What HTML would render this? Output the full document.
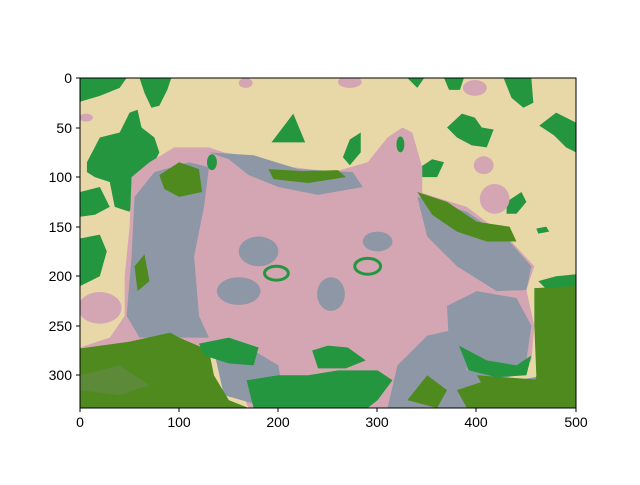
<!DOCTYPE html>
<html><head><meta charset="utf-8"><style>
body{margin:0;background:#fff;width:640px;height:480px;overflow:hidden;font-family:"Liberation Sans","DejaVu Sans",sans-serif}
</style></head><body>
<svg width="640" height="480">
<rect width="640" height="480" fill="#fff"/>
<svg x="80" y="78" width="496" height="330" viewBox="0 0 500 333" preserveAspectRatio="none">
<rect width="500" height="333" fill="#e9d8a7"/>
<g fill="#23963f">
<path d="M0,0 L47,0 L40,10 L20,18 L0,24Z"/>
<path d="M60,0 L92,0 L88,12 L80,28 L72,30 L65,15Z"/>
<path d="M7,85 L20,60 L40,55 L50,35 L58,32 L62,50 L75,60 L80,75 L70,95 L75,110 L60,110 L50,135 L35,130 L30,105 L15,100 L7,95Z"/>
<path d="M0,115 L20,110 L30,130 L15,138 L0,140Z"/>
<path d="M0,162 L20,158 L27,175 L20,200 L0,210Z"/>
<path d="M193,65 L215,36 L227,65Z"/>
<path d="M265,80 L272,62 L283,55 L283,75 L272,88Z"/>
<path d="M343,90 L355,82 L367,85 L360,100 L345,100Z"/>
<path d="M330,0 L347,0 L340,10Z"/>
<path d="M367,0 L387,0 L383,12 L372,12Z"/>
<path d="M427,0 L455,0 L457,25 L447,30 L435,20Z"/>
<path d="M370,50 L385,36 L398,40 L405,50 L417,52 L410,70 L395,68 L380,60Z"/>
<path d="M463,48 L480,35 L490,40 L500,45 L500,75 L490,70 L478,58Z"/>
<path d="M430,125 L445,115 L450,125 L440,137 L430,137Z"/>
<path d="M460,152 L470,150 L473,155 L462,157Z"/>
<path d="M462,205 L480,200 L500,198 L500,212 L470,213Z"/>
</g>
<g fill="#d4a6b3">
<ellipse cx="167" cy="5" rx="7" ry="5"/>
<ellipse cx="272" cy="4" rx="12" ry="6"/>
<ellipse cx="398" cy="10" rx="12" ry="8"/>
<ellipse cx="407" cy="88" rx="10" ry="9"/>
<ellipse cx="418" cy="122" rx="15" ry="15"/>
<ellipse cx="6" cy="40" rx="7" ry="4"/>
<ellipse cx="20" cy="232" rx="22" ry="16"/>
</g>
<path fill="#d4a6b3" d="M0,272 L30,262 L45,240 L45,200 L50,150 L52,100 L70,85 L95,70 L130,70 L145,75 L175,80 L215,90 L255,95 L290,85 L310,60 L325,50 L335,55 L345,90 L345,116 L390,130 L433,163 L458,190 L450,214 L458,250 L455,285 L440,300 L400,310 L370,333 L170,333 L150,290 L100,265 L0,275Z"/>
<g fill="#8e97a5">
<path d="M47,240 L52,180 L55,120 L75,95 L110,85 L130,90 L125,130 L115,180 L120,240 L130,262 L90,262 L60,262Z"/>
<path d="M130,75 L175,78 L220,92 L275,95 L285,110 L240,118 L200,110 L170,98 L150,82Z"/>
<path d="M340,120 L390,135 L433,165 L455,190 L450,214 L420,215 L380,190 L350,160Z"/>
<ellipse cx="253" cy="218" rx="14" ry="17"/>
<ellipse cx="180" cy="175" rx="20" ry="15"/>
<ellipse cx="300" cy="165" rx="15" ry="10"/>
<ellipse cx="160" cy="215" rx="22" ry="14"/>
<path d="M370,230 L400,215 L440,222 L455,250 L450,285 L425,300 L395,300 L372,270Z"/>
<path d="M135,275 L170,272 L200,290 L205,320 L180,330 L145,320Z"/>
<path d="M310,333 L320,290 L350,260 L372,255 L390,295 L440,305 L470,300 L500,290 L500,333Z"/>
</g>
<g fill="#4e8a1e">
<path d="M0,273 L50,266 L91,257 L100,262 L130,275 L135,300 L150,325 L170,333 L0,333Z"/>
<path d="M458,212 L500,210 L500,333 L455,333 L460,300 L458,250Z"/>
<path d="M80,98 L100,85 L120,92 L123,115 L100,120 L85,112Z"/>
<path d="M190,92 L225,94 L260,93 L268,100 L230,106 L195,102Z"/>
<path d="M340,115 L370,125 L400,145 L433,150 L440,165 L410,165 L380,155 L355,138Z"/>
<path d="M55,190 L65,178 L70,205 L58,215Z"/>
<path d="M380,315 L410,305 L440,315 L430,333 L390,333Z"/>
<path d="M0,300 L40,290 L70,310 L40,320 L0,315Z" fill="#6a8a52" opacity="0.5"/>
<path d="M400,300 L470,305 L470,333 L420,333Z"/>
<path d="M330,325 L350,300 L370,315 L360,333Z"/>
</g>
<g fill="#23963f">
<path d="M120,268 L150,262 L180,272 L175,290 L150,288 L125,280Z"/>
<path d="M234,275 L250,270 L270,272 L288,285 L268,293 L240,293Z"/>
<path d="M168,305 L200,300 L230,300 L260,295 L300,295 L315,305 L300,325 L290,333 L175,333Z"/>
<path d="M382,270 L410,285 L440,290 L455,280 L450,300 L420,302 L392,295Z"/>
<ellipse cx="198" cy="197" rx="12" ry="7" fill="none" stroke="#23963f" stroke-width="3"/>
<ellipse cx="290" cy="190" rx="13" ry="8" fill="none" stroke="#23963f" stroke-width="3"/>
<ellipse cx="133" cy="85" rx="5" ry="8"/>
<ellipse cx="323" cy="67" rx="4" ry="8"/>
</g>
</svg>
<rect x="80" y="78" width="496" height="330" fill="none" stroke="#000" stroke-width="1"/>
<g font-size="14" fill="#000" text-anchor="middle">
<line x1="80" y1="408" x2="80" y2="412" stroke="#000"/><text x="80" y="427">0</text>
<line x1="179" y1="408" x2="179" y2="412" stroke="#000"/><text x="179" y="427">100</text>
<line x1="278" y1="408" x2="278" y2="412" stroke="#000"/><text x="278" y="427">200</text>
<line x1="377" y1="408" x2="377" y2="412" stroke="#000"/><text x="377" y="427">300</text>
<line x1="476" y1="408" x2="476" y2="412" stroke="#000"/><text x="476" y="427">400</text>
<line x1="576" y1="408" x2="576" y2="412" stroke="#000"/><text x="576" y="427">500</text>
</g>
<g font-size="14" fill="#000" text-anchor="end">
<line x1="76" y1="78" x2="80" y2="78" stroke="#000"/><text x="72" y="83">0</text>
<line x1="76" y1="128" x2="80" y2="128" stroke="#000"/><text x="72" y="133">50</text>
<line x1="76" y1="177" x2="80" y2="177" stroke="#000"/><text x="72" y="182">100</text>
<line x1="76" y1="227" x2="80" y2="227" stroke="#000"/><text x="72" y="232">150</text>
<line x1="76" y1="276" x2="80" y2="276" stroke="#000"/><text x="72" y="281">200</text>
<line x1="76" y1="326" x2="80" y2="326" stroke="#000"/><text x="72" y="331">250</text>
<line x1="76" y1="375" x2="80" y2="375" stroke="#000"/><text x="72" y="380">300</text>
</g>
</svg>
</body></html>
